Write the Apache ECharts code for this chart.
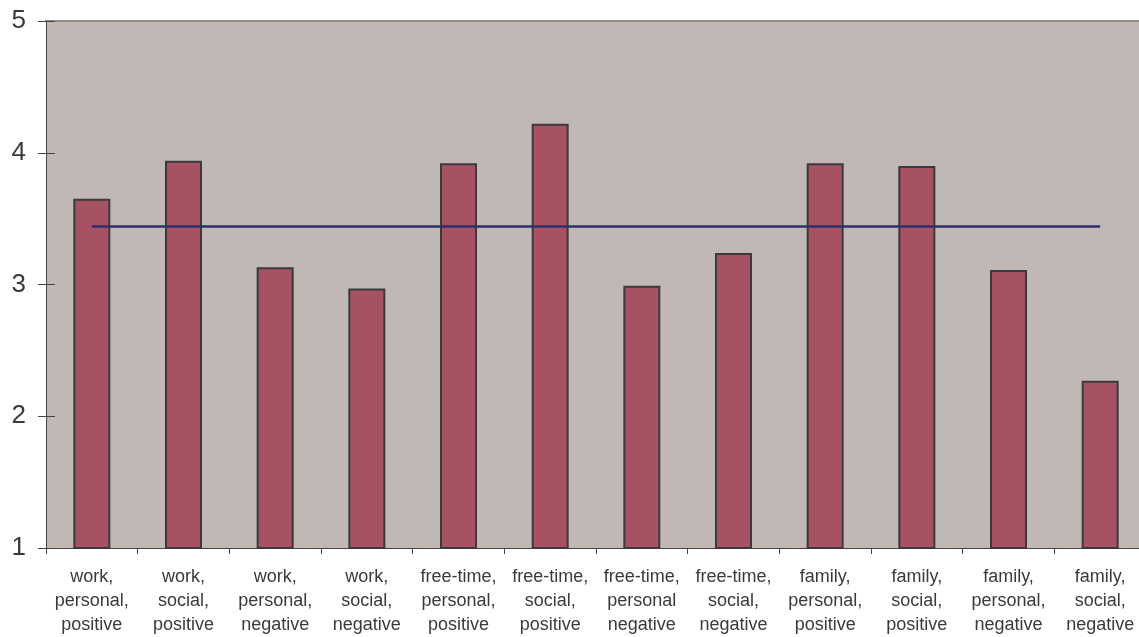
<!DOCTYPE html>
<html>
<head>
<meta charset="utf-8">
<style>
  html, body { margin: 0; padding: 0; background: #ffffff; overflow: hidden; }
  #chart { width: 1146px; height: 637px; }
</style>
<script src="https://cdn.jsdelivr.net/npm/echarts@6/dist/echarts.min.js"></script>
</head>
<body>
<div id="chart"></div>
<script>
// Mean ratings per situation type (scale 1 to 5)
const categories = [
  'work,\npersonal,\npositive',
  'work,\nsocial,\npositive',
  'work,\npersonal,\nnegative',
  'work,\nsocial,\nnegative',
  'free-time,\npersonal,\npositive',
  'free-time,\nsocial,\npositive',
  'free-time,\npersonal\nnegative',
  'free-time,\nsocial,\nnegative',
  'family,\npersonal,\npositive',
  'family,\nsocial,\npositive',
  'family,\npersonal,\nnegative',
  'family,\nsocial,\nnegative'
];
const scores = [3.65, 3.94, 3.13, 2.97, 3.92, 4.22, 2.99, 3.24, 3.92, 3.90, 3.11, 2.27];
// Overall average, drawn as a horizontal reference line
const meanScore = 3.44;
const yTicks = [1, 2, 3, 4, 5];

const chart = echarts.init(document.getElementById('chart'));
const fontFamily = "'Liberation Sans', Arial, Helvetica, sans-serif";

chart.setOption({
  animation: false,
  backgroundColor: '#ffffff',
  grid: {
    left: 46, top: 21, right: 0, bottom: 88,
    show: true, backgroundColor: '#C1B8B6', borderWidth: 0
  },
  xAxis: [{
    type: 'category',
    data: categories,
    position: 'bottom',
    axisLine: { lineStyle: { color: '#444444', width: 1 } },
    axisTick: { show: true, inside: false, length: 6, lineStyle: { color: '#444444' } },
    axisLabel: {
      interval: 0, margin: 17, fontSize: 18, lineHeight: 24,
      color: '#3a3a3a', fontFamily: fontFamily
    },
    splitLine: { show: false }
  }, {
    type: 'category',
    data: categories,
    position: 'top',
    axisLine: { lineStyle: { color: '#958A87', width: 2 } },
    axisTick: { show: false },
    axisLabel: { show: false }
  }],
  yAxis: [{
    type: 'value',
    min: yTicks[0],
    max: yTicks[yTicks.length - 1],
    interval: 1,
    axisLine: { show: true, lineStyle: { color: '#444444', width: 1 } },
    axisTick: { show: true, inside: false, length: 8, lineStyle: { color: '#444444' } },
    axisLabel: { margin: 20, fontSize: 26, color: '#3a3a3a', fontFamily: fontFamily },
    splitLine: { show: false }
  }, {
    type: 'value',
    position: 'left',
    min: yTicks[0],
    max: yTicks[yTicks.length - 1],
    interval: 1,
    axisLine: { show: false },
    axisTick: { show: true, inside: true, length: 9, lineStyle: { color: '#444444' } },
    axisLabel: { show: false },
    splitLine: { show: false }
  }],
  series: [{
    type: 'bar',
    data: scores,
    barWidth: 37,
    itemStyle: {
      color: '#A65262',
      borderColor: '#3A3A3C',
      borderWidth: 2
    },
    markLine: {
      symbol: ['none', 'none'],
      silent: true,
      label: { show: false },
      lineStyle: { color: '#2E2F6E', width: 2.5, type: 'solid' },
      data: [[
        { coord: [categories[0], meanScore] },
        { coord: [categories[categories.length - 1], meanScore] }
      ]]
    }
  }]
});
</script>
</body>
</html>
